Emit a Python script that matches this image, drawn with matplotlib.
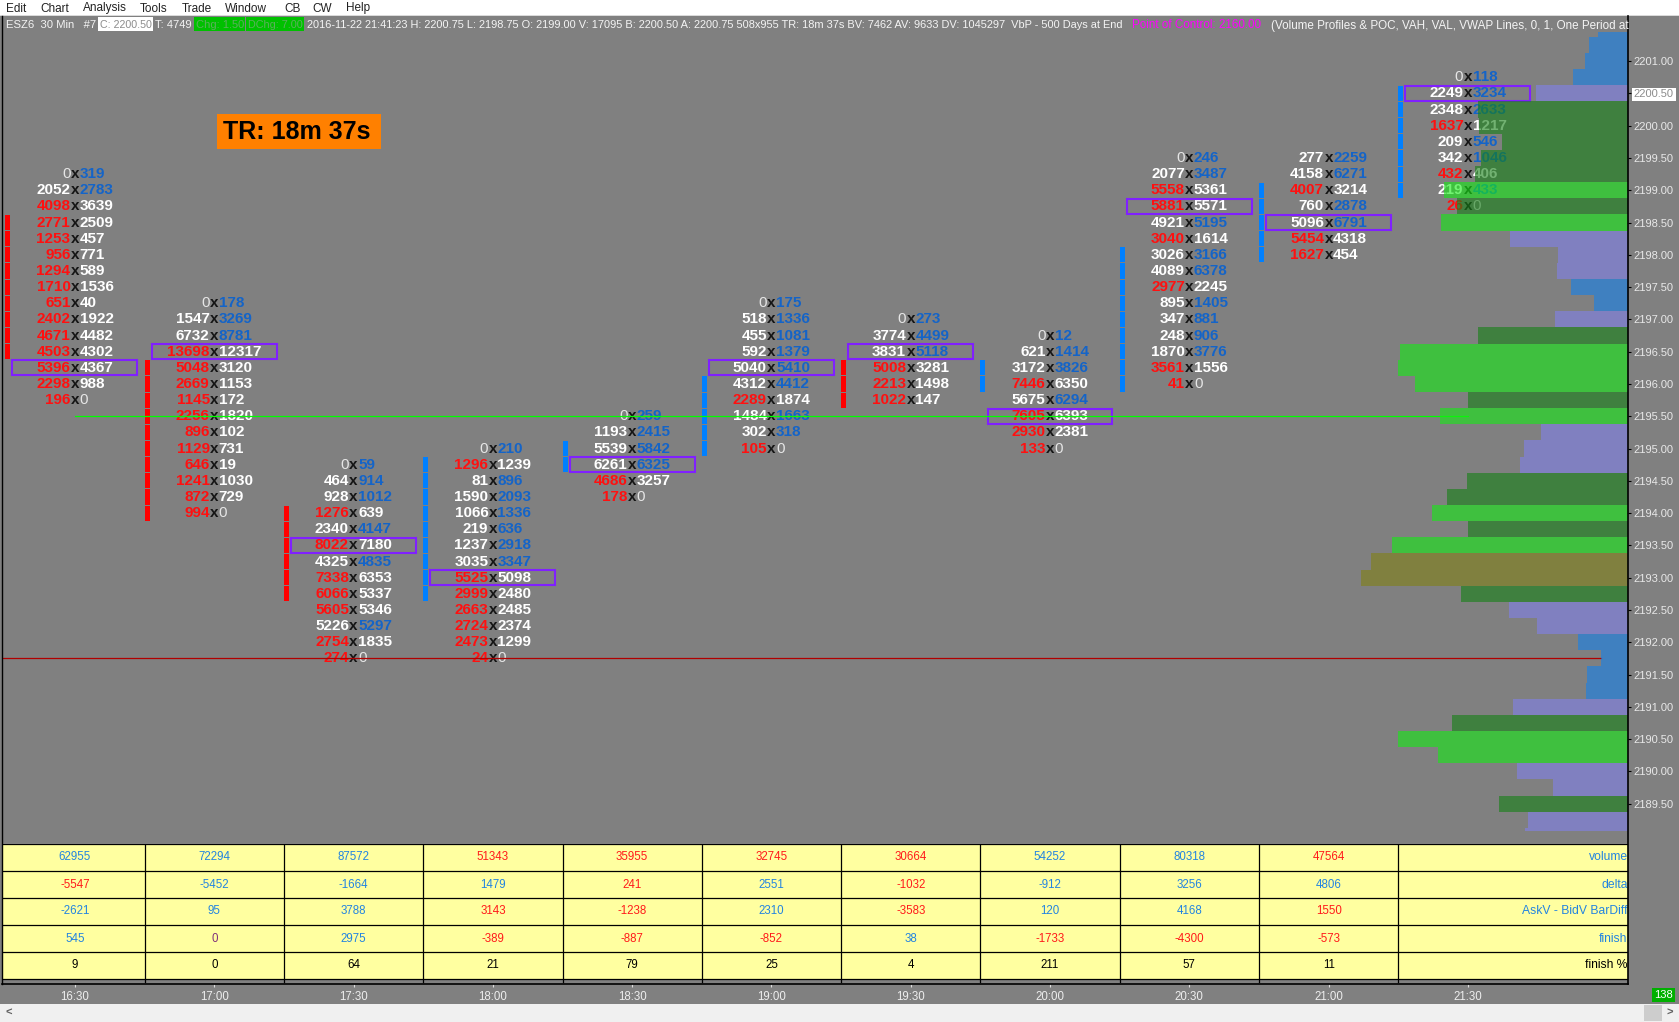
import numpy as np
import matplotlib
matplotlib.use('Agg')
import matplotlib.pyplot as plt
from matplotlib.patches import Rectangle
from matplotlib.lines import Line2D
from matplotlib import transforms

plt.rcParams['font.family'] = ['Liberation Sans', 'DejaVu Sans']

# ---------------- data ----------------
times = ['16:30', '17:00', '17:30', '18:00', '18:30', '19:00',
         '19:30', '20:00', '20:30', '21:00', '21:30']
tick = 0.25
top_price = [2199.25, 2197.25, 2194.75, 2195.00, 2195.50, 2197.25,
             2197.00, 2196.75, 2199.50, 2199.50, 2200.75]

bids = [
    [0, 2052, 4098, 2771, 1253, 956, 1294, 1710, 651, 2402, 4671, 4503, 5396, 2298, 196],
    [0, 1547, 6732, 13698, 5048, 2669, 1145, 2256, 896, 1129, 646, 1241, 872, 994],
    [0, 464, 928, 1276, 2340, 8022, 4325, 7338, 6066, 5605, 5226, 2754, 274],
    [0, 1296, 81, 1590, 1066, 219, 1237, 3035, 5525, 2999, 2663, 2724, 2473, 24],
    [0, 1193, 5539, 6261, 4686, 178],
    [0, 518, 455, 592, 5040, 4312, 2289, 1484, 302, 105],
    [0, 3774, 3831, 5008, 2213, 1022],
    [0, 621, 3172, 7446, 5675, 7605, 2930, 133],
    [0, 2077, 5558, 5881, 4921, 3040, 3026, 4089, 2977, 895, 347, 248, 1870, 3561, 41],
    [277, 4158, 4007, 760, 5096, 5454, 1627],
    [0, 2249, 2348, 1637, 209, 342, 432, 219, 26],
]
asks = [
    [319, 2783, 3639, 2509, 457, 771, 589, 1536, 40, 1922, 4482, 4302, 4367, 988, 0],
    [178, 3269, 8781, 12317, 3120, 1153, 172, 1820, 102, 731, 19, 1030, 729, 0],
    [59, 914, 1012, 639, 4147, 7180, 4835, 6353, 5337, 5346, 5297, 1835, 0],
    [210, 1239, 896, 2093, 1336, 636, 2918, 3347, 5098, 2480, 2485, 2374, 1299, 0],
    [259, 2415, 5842, 6325, 3257, 0],
    [175, 1336, 1081, 1379, 5410, 4412, 1874, 1663, 318, 0],
    [273, 4499, 5118, 3281, 1498, 147],
    [12, 1414, 3826, 6350, 6294, 6393, 2381, 0],
    [246, 3487, 5361, 5571, 5195, 1614, 3166, 6378, 2245, 1405, 881, 906, 3776, 1556, 0],
    [2259, 6271, 3214, 2878, 6791, 4318, 454],
    [118, 3234, 2633, 1217, 546, 1046, 406, 433, 0],
]
poc_row = [12, 3, 5, 8, 3, 4, 2, 5, 3, 4, 1]
# stacked imbalance markers: first row, last row, side
stacks = [(3, 11, 'bid'), (4, 13, 'bid'), (3, 8, 'bid'), (1, 9, 'ask'),
          (2, 3, 'ask'), (5, 9, 'ask'), (3, 5, 'bid'), (2, 3, 'ask'),
          (6, 14, 'ask'), (2, 6, 'ask'), (1, 7, 'ask')]

vwap_price = 2195.50
level_price = 2191.75
last_price = 2200.50

# volume by price (500 days), from 2201.50 downwards, relative units
profile_top = 2201.50
profile_vol = [30, 39, 43, 55, 92, 150, 149, 126, 147, 153, 184, 171, 187, 118, 70,
               71, 57, 34, 73, 150, 228, 230, 213, 160, 188, 87, 104, 108, 161, 181,
               196, 160, 236, 257, 267, 167, 119, 91, 50, 27, 41, 42, 115, 176, 230,
               190, 111, 75, 129, 100, 103]
profile_zone = "BBBBLDDDDDGDGLLLBBLDGGGDGLLLDDGDGPPDLLBBBBLDGGLLDLL"

tbl_labels = ['volume', 'delta', 'AskV - BidV BarDiff', 'finish', 'finish %']
tbl_volume = [62955, 72294, 87572, 51343, 35955, 32745, 30664, 54252, 80318, 47564]
tbl_delta = [-5547, -5452, -1664, 1479, 241, 2551, -1032, -912, 3256, 4806]
tbl_bardiff = [-2621, 95, 3788, 3143, -1238, 2310, -3583, 120, 4168, 1550]
tbl_finish = [545, 0, 2975, -389, -887, -852, 38, -1733, -4300, -573]
tbl_finish_pct = [9, 0, 64, 21, 79, 25, 4, 211, 57, 11]
tbl_colors = ['bbbrrrrbbr', 'rbbbrbrbbb', 'bbbrrbrbbr', 'bpbrrrbrrr', 'kkkkkkkkkk']

# ---------------- figure ----------------
W, H = 1679, 1022
GRAY = '#808080'
fig = plt.figure(figsize=(W / 100, H / 100), dpi=100, facecolor=GRAY)


def fx(px):
    return px / W


def fy(py):
    return 1 - py / H


def frect(x0, y0, x1, y1, fc, ec='none', lw=0, z=0):
    fig.patches.append(Rectangle((fx(x0), fy(y1)), fx(x1) - fx(x0), fy(y0) - fy(y1),
                                 transform=fig.transFigure, fc=fc, ec=ec, lw=lw, zorder=z))


renderer = fig.canvas.get_renderer()


def fit_text(x0, x1, y, s, size, **kw):
    t = fig.text(fx(x0), fy(y), s, fontsize=size, ha='left', va='baseline', **kw)
    w = t.get_window_extent(renderer=renderer).width
    if w > x1 - x0:
        t.set_fontsize(size * (x1 - x0) / w)
    return t


# menu bar
frect(0, 0, W, 16, '#FFFFFF')
frect(0, 15, W, 16, '#DADADA')
menu = [('Edit', 6), ('Chart', 40), ('Analysis', 83), ('Tools', 140), ('Trade', 182),
        ('Window', 225), ('CB', 284), ('CW', 312), ('Help', 346)]
for name, px in menu:
    fig.text(fx(px), fy(11.5), name, fontsize=8.5, color='#222222', va='baseline')

# header line
parts = [
    (6, 96, 'ESZ6  30 Min   #7', '#F4F4F4', None),
    (100, 152, 'C: 2200.50', '#8C8C8C', '#FFFFFF'),
    (155, 192, 'T: 4749', '#F4F4F4', None),
    (196, 244, 'Chg: 1.50', '#5CB05C', '#00C000'),
    (248, 303, 'DChg: 7.00', '#5CB05C', '#00C000'),
    (307, 1128, '2016-11-22 21:41:23 H: 2200.75 L: 2198.75 O: 2199.00 V: 17095 '
                'B: 2200.50 A: 2200.75 508x955 TR: 18m 37s BV: 7462 AV: 9633 '
                'DV: 1045297  VbP - 500 Days at End', '#F4F4F4', None),
    (1132, 1266, 'Point of Control: 2160.00', '#FF00FF', None),
    (1271, 1627, '(Volume Profiles & POC, VAH, VAL, VWAP Lines, 0, 1, One Period at',
     '#F4F4F4', None),
]
for x0, x1, s, c, bg in parts:
    if bg:
        frect(x0 - 2, 17, x1 + 1, 31, bg, z=1)
    t = fit_text(x0, x1, 28.5, s, 8.4, color=c)
    t.set_zorder(2)

# ---------------- price chart ----------------
ax = fig.add_axes([fx(2), fy(831), fx(1628) - fx(2), fy(32) - fy(831)])
ax.set_facecolor(GRAY)
xmin, xmax = -0.524, 11.149
ax.set_xlim(xmin, xmax)
ax.set_ylim(2189.077, 2201.451)
for s in ax.spines.values():
    s.set_visible(False)

RED, WHITE, BLUE, ZERO = '#FF1010', '#FFFFFF', '#1464C8', '#E6E6E6'
left_tr = transforms.offset_copy(ax.transData, fig=fig, x=-3.3, y=0, units='points')
right_tr = transforms.offset_copy(ax.transData, fig=fig, x=3.3, y=0, units='points')
fs = 11

for i in range(len(times)):
    for k, (b, a) in enumerate(zip(bids[i], asks[i])):
        p = top_price[i] - k * tick
        if b > a:
            bc, acol = RED, WHITE
        else:
            bc, acol = WHITE, BLUE
        bw = aw = 'bold'
        if b == 0:
            bc, bw = ZERO, 'normal'
        if a == 0:
            acol, aw = ZERO, 'normal'
        ax.text(i, p, str(b), transform=left_tr, ha='right', va='center',
                fontsize=fs, color=bc, fontweight=bw, zorder=3)
        ax.text(i, p, 'x', ha='center', va='center', fontsize=fs,
                color='#151515', fontweight='bold', zorder=3)
        ax.text(i, p, str(a), transform=right_tr, ha='left', va='center',
                fontsize=fs, color=acol, fontweight=aw, zorder=3)
    # point of control box
    pp = top_price[i] - poc_row[i] * tick
    ax.add_patch(Rectangle((i - 0.449, pp - 0.116), 0.897, 0.232, fill=False,
                           ec='#8020FF', lw=1.5, zorder=4))
    # stacked imbalance marks
    r0, r1, side = stacks[i]
    for k in range(r0, r1 + 1):
        p = top_price[i] - k * tick
        ax.add_patch(Rectangle((i - 0.5, p - 0.117), 0.036, 0.234,
                               fc='#FF0000' if side == 'bid' else '#0080FF',
                               ec='none', zorder=4))

# profile (drawn over the footprint, semi transparent)
profile_price = profile_top - tick * np.arange(len(profile_vol))
zone_col = {'B': '#1580EB', 'L': '#8080EB', 'D': '#158015', 'G': '#15EB15', 'P': '#808015'}
axp = ax.twiny()
axp.set_xlim(1626, 0)
axp.barh(profile_price, profile_vol, height=tick, left=0,
         color=[zone_col[z] for z in profile_zone], alpha=0.6, lw=0, zorder=6)
axp.xaxis.set_visible(False)
for s in axp.spines.values():
    s.set_visible(False)

# axis ticks (after twiny, which resets the bottom ticks)
ax.set_xticks([])
ax.tick_params(axis='x', bottom=False, top=False, labelbottom=False)
ax.yaxis.tick_right()
yt = np.arange(2189.5, 2201.01, 0.5)
ax.set_yticks(yt, [f'{v:.2f}' for v in yt])
ax.tick_params(axis='y', right=True, length=2.4, width=0.8, color='black',
               labelcolor='#E8E8E8', labelsize=8, pad=1.8)
for lab, v in zip(ax.get_yticklabels(), yt):
    if abs(v - last_price) < 1e-6:
        lab.set_color('#8C8C8C')
        lab.set_bbox(dict(fc='white', ec='none', pad=1.2))

# lines
ax.plot([0, len(times) - 1], [vwap_price, vwap_price], color='#00FF00', lw=0.9, zorder=5)
lvl_vol = profile_vol[int(round((profile_top - level_price) / tick))]
x_end = xmax - lvl_vol * (xmax - xmin) / 1626
ax.plot([xmin, x_end], [level_price, level_price], color='#B00000', lw=0.9, zorder=5)

# TR box
frect(217, 114, 381, 149, '#FF8000', z=5)
fig.text(fx(297), fy(132), 'TR: 18m 37s', fontsize=18, fontweight='bold',
         color='black', ha='center', va='center', zorder=6)

# ---------------- study table ----------------
axt = fig.add_axes([fx(2), fy(984), fx(1628) - fx(2), fy(844) - fy(984)])
axt.set_facecolor(GRAY)
axt.set_xlim(xmin, xmax)
gap = 5 / 27
axt.set_ylim(-gap, 5)
axt.add_patch(Rectangle((xmin, 0), xmax - xmin, 5, fc='#FFFFA0', ec='none'))
for r in range(6):
    axt.plot([xmin, xmax], [r, r], color='black', lw=0.9)
for b in np.arange(0.5, 10, 1.0):
    axt.plot([b, b], [-gap * 0.6, 5], color='black', lw=0.9)
tcol = {'b': '#2384E0', 'r': '#FF1A1A', 'k': '#000000', 'p': '#80307A'}
rows = [tbl_volume, tbl_delta, tbl_bardiff, tbl_finish, tbl_finish_pct]
for r, (vals, cols, lab) in enumerate(zip(rows, tbl_colors, tbl_labels)):
    yc = 4.5 - r
    for i, v in enumerate(vals):
        axt.text(i, yc, str(v), ha='center', va='center', fontsize=8.3, color=tcol[cols[i]])
    axt.text(xmax - 0.003, yc, lab, ha='right', va='center', fontsize=8.7,
             color='#000000' if lab == 'finish %' else '#2384E0')
for s in ['left', 'right', 'top']:
    axt.spines[s].set_visible(False)
axt.spines['bottom'].set_color('black')
axt.spines['bottom'].set_linewidth(1.2)
axt.set_yticks([])
axt.set_xticks(range(len(times)), times)
axt.tick_params(axis='x', length=2.4, width=0.8, color='#DDDDDD', labelcolor='#EEEEEE',
                labelsize=8.3, pad=3)

# frame lines
fig.lines.append(Line2D([fx(2), fx(2)], [fy(16), fy(984)], transform=fig.transFigure,
                        color='black', lw=1))
fig.lines.append(Line2D([fx(1628), fx(1628)], [fy(16), fy(984)], transform=fig.transFigure,
                        color='black', lw=1.2))

# bar counter and scrollbar
frect(1652, 988, 1675, 1002, '#00B000')
fig.text(fx(1663.5), fy(995), '138', fontsize=8, color='white', ha='center', va='center')
frect(0, 1004, W, H, '#F0F0F0')
frect(1644, 1005, 1662, 1021, '#CDCDCD')
fig.text(fx(9), fy(1013), '<', fontsize=8, color='#606060', ha='center', va='center',
         fontweight='bold')
fig.text(fx(1670), fy(1013), '>', fontsize=8, color='#606060', ha='center', va='center',
         fontweight='bold')

fig.savefig('out.png', dpi=100, facecolor=GRAY)
